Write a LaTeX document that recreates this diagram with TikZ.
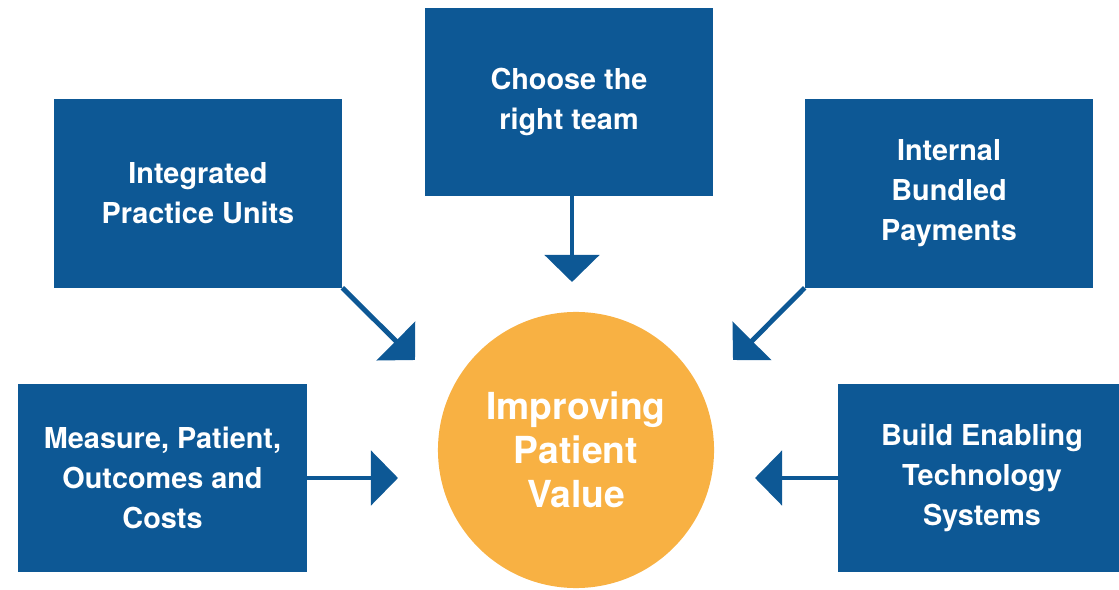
\documentclass[tikz,border=0pt]{standalone}
\usepackage{fontspec}
\setmainfont{TeX Gyre Heros}
\usetikzlibrary{arrows.meta, positioning}

\definecolor{boxblue}{RGB}{13,88,149}
\definecolor{hubgold}{RGB}{248,177,67}

\begin{document}
\begin{tikzpicture}[
      x=0.025cm, y=-0.025cm,
      box/.style={fill=boxblue, minimum width=7.2cm, minimum height=4.7cm,
                  inner sep=0pt, text=white, align=center,
                  font=\bfseries\fontsize{20.5}{28.5}\selectfont},
      hub/.style={circle, fill=hubgold, minimum size=6.9cm, inner sep=0pt,
                  text=white, align=center,
                  font=\bfseries\fontsize{26.5}{31.3}\selectfont},
      feed/.style={draw=boxblue, line width=3.5pt,
                   -{Triangle[length=0.675cm, width=1.35cm]}}]

    % Canvas: 1 unit = 1 px, y grows downwards
    \useasboundingbox (0,0) rectangle (1119,590);
    \clip (0,0) rectangle (1119,590);

    % Centre goal
    \node[hub] (value) at (576,450) {Improving\\Patient\\Value};

    % Five levers around it
    \node[box] (team) at (569,102)   {Choose the\\right team};
    \node[box] (ipu)  at (198,193.5) {Integrated\\Practice Units};
    \node[box] (pay)  at (949,193.5) {Internal\\Bundled\\Payments};
    \node[box] (meas) at (162.5,478) {Measure, Patient,\\Outcomes and\\Costs};
    \node[box] (tech) at (982,478)   {Build Enabling\\Technology\\Systems};

    % Arrow tips stop short of the circle
    \coordinate (tipT)    at (572,282);
    \coordinate (tipIPU)  at (415,360);
    \coordinate (tipPay)  at (733,360);
    \coordinate (tipMeas) at (398,478);
    \coordinate (tipTech) at (755,478);

    \draw[feed] (team.south -| tipT) -- (tipT);
    \draw[feed] (ipu.south east) -- (tipIPU);
    \draw[feed] (pay.south west) -- (tipPay);
    \draw[feed] (meas.east) -- (tipMeas);
    \draw[feed] (tech.west) -- (tipTech);

\end{tikzpicture}
\end{document}
